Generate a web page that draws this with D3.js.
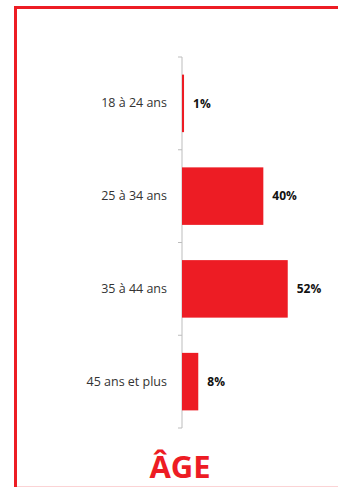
<!DOCTYPE html>
<html>
<head>
<meta charset="utf-8">
<script src="https://cdn.jsdelivr.net/npm/d3@7"></script>
<style>
  body { margin: 0; background: #fff; }
  svg { display: block; }
</style>
</head>
<body>
<svg id="chart" width="338" height="487"></svg>
<script>
var categories = ["18 à 24 ans", "25 à 34 ans", "35 à 44 ans", "45 ans et plus"];
var values = [0.01, 0.40, 0.52, 0.08];
var valueLabels = ["1%", "40%", "52%", "8%"];
var title = "ÂGE";

var red = "#ed1c24";
var svg = d3.select("#chart");

// frame around the panel
svg.append("line")
  .attr("x1", 14).attr("x2", 338).attr("y1", 7.5).attr("y2", 7.5)
  .attr("stroke", red).attr("stroke-width", 3);
svg.append("line")
  .attr("x1", 15.5).attr("x2", 15.5).attr("y1", 6).attr("y2", 487)
  .attr("stroke", red).attr("stroke-width", 3);
svg.append("line")
  .attr("x1", 17).attr("x2", 338).attr("y1", 486.5).attr("y2", 486.5)
  .attr("stroke", "#fbd3d5").attr("stroke-width", 1);

var y = d3.scaleBand()
  .domain(categories)
  .range([57, 428])
  .paddingInner(0.38)
  .paddingOuter(0.19);

var x = d3.scaleLinear()
  .domain([0, 0.6])
  .range([182, 304]);

// category axis
var axis = svg.append("g")
  .attr("transform", "translate(182,0)")
  .call(d3.axisLeft(y).tickSize(0).tickPadding(15));
axis.select(".domain").remove();
axis.selectAll("text")
  .style("font-family", "'Open Sans', sans-serif")
  .style("font-size", "12.5px")
  .style("fill", "#333");

// axis line and separators between categories
var bounds = d3.range(categories.length + 1).map(function(i) {
  return 57 + i * (428 - 57) / categories.length;
});
svg.append("line")
  .attr("x1", 182).attr("x2", 182).attr("y1", 57).attr("y2", 428)
  .attr("stroke", "#bdbdbd").attr("stroke-width", 1);
svg.selectAll(".sep")
  .data(bounds)
  .enter()
  .append("line")
  .attr("class", "sep")
  .attr("x1", 178).attr("x2", 182)
  .attr("y1", function(d) { return d; })
  .attr("y2", function(d) { return d; })
  .attr("stroke", "#bdbdbd").attr("stroke-width", 1);

// bars
svg.selectAll(".bar")
  .data(values)
  .enter()
  .append("rect")
  .attr("class", "bar")
  .attr("x", x(0))
  .attr("y", function(d, i) { return y(categories[i]); })
  .attr("width", function(d) { return x(d) - x(0); })
  .attr("height", y.bandwidth())
  .style("fill", red);

// value labels
svg.selectAll(".val")
  .data(values)
  .enter()
  .append("text")
  .attr("class", "val")
  .attr("x", function(d) { return x(d) + 9; })
  .attr("y", function(d, i) { return y(categories[i]) + y.bandwidth() / 2; })
  .attr("dy", "0.35em")
  .style("font-family", "'Open Sans', sans-serif")
  .style("font-size", "12px")
  .style("font-weight", "bold")
  .style("fill", "#111")
  .text(function(d, i) { return valueLabels[i]; });

// title
svg.append("text")
  .attr("x", 180)
  .attr("y", 478)
  .attr("text-anchor", "middle")
  .style("font-family", "'Open Sans', sans-serif")
  .style("font-size", "31px")
  .style("font-weight", "bold")
  .style("fill", red)
  .text(title);
</script>
</body>
</html>
